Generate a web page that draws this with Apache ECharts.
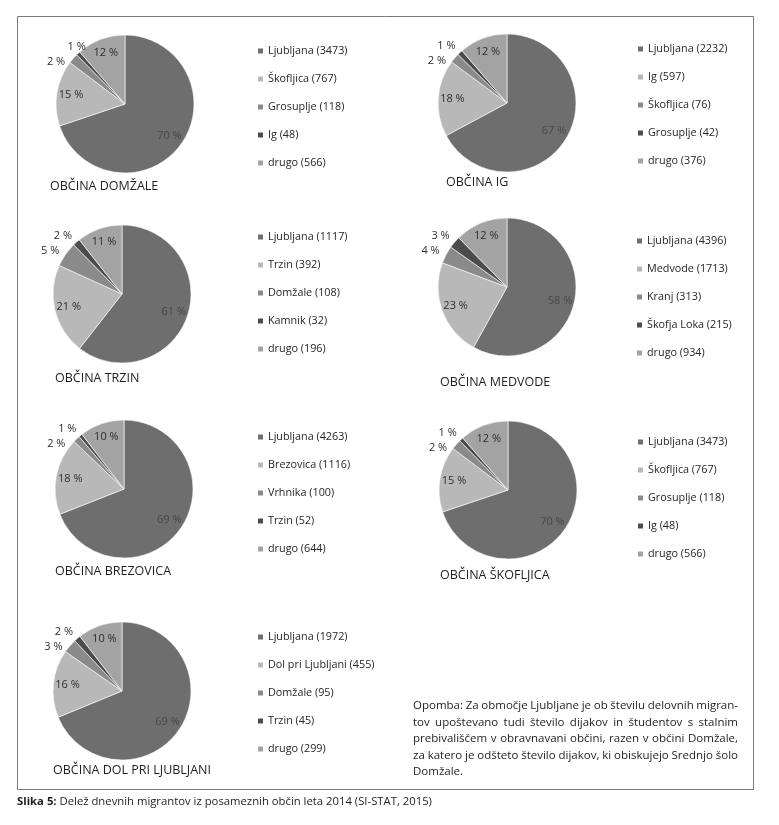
<!DOCTYPE html>
<html><head><meta charset="utf-8">
<script src="https://cdn.jsdelivr.net/npm/echarts@6/dist/echarts.min.js"></script>
<style>html,body{margin:0;padding:0;background:#fff}#c{width:779px;height:825px}</style>
</head><body><div id="c"></div>
<script>
// ---- DATA ----
const chartTitles = ['OBČINA DOMŽALE','OBČINA IG','OBČINA TRZIN','OBČINA MEDVODE','OBČINA BREZOVICA','OBČINA ŠKOFLJICA','OBČINA DOL PRI LJUBLJANI'];

const domzaleNames = ['Ljubljana','Škofljica','Grosuplje','Ig','drugo'];
const domzaleValues = [3473,767,118,48,566];
const domzalePct = [70,15,2,1,12];

const igNames = ['Ljubljana','Ig','Škofljica','Grosuplje','drugo'];
const igValues = [2232,597,76,42,376];
const igPct = [67,18,2,1,12];

const trzinNames = ['Ljubljana','Trzin','Domžale','Kamnik','drugo'];
const trzinValues = [1117,392,108,32,196];
const trzinPct = [61,21,5,2,11];

const medvodeNames = ['Ljubljana','Medvode','Kranj','Škofja Loka','drugo'];
const medvodeValues = [4396,1713,313,215,934];
const medvodePct = [58,23,4,3,12];

const brezovicaNames = ['Ljubljana','Brezovica','Vrhnika','Trzin','drugo'];
const brezovicaValues = [4263,1116,100,52,644];
const brezovicaPct = [69,18,2,1,10];

const skofljicaNames = ['Ljubljana','Škofljica','Grosuplje','Ig','drugo'];
const skofljicaValues = [3473,767,118,48,566];
const skofljicaPct = [70,15,2,1,12];

const dolNames = ['Ljubljana','Dol pri Ljubljani','Domžale','Trzin','drugo'];
const dolValues = [1972,455,95,45,299];
const dolPct = [69,16,3,2,10];

const noteLines = [
  'Opomba: Za območje Ljubljane je ob številu delovnih migran-',
  'tov upoštevano tudi število dijakov in študentov s stalnim',
  'prebivališčem v obravnavani občini, razen v občini Domžale,',
  'za katero je odšteto število dijakov, ki obiskujejo Srednjo šolo',
  'Domžale.'
];
const captionBold = 'Slika 5:';
const captionText = ' Delež dnevnih migrantov iz posameznih občin leta 2014 (SI-STAT, 2015)';

// ---- LAYOUT / STYLE ----
const pies = [
  {names:domzaleNames, values:domzaleValues, pct:domzalePct},
  {names:igNames, values:igValues, pct:igPct},
  {names:trzinNames, values:trzinValues, pct:trzinPct},
  {names:medvodeNames, values:medvodeValues, pct:medvodePct},
  {names:brezovicaNames, values:brezovicaValues, pct:brezovicaPct},
  {names:skofljicaNames, values:skofljicaValues, pct:skofljicaPct},
  {names:dolNames, values:dolValues, pct:dolPct}
];
// label nudges for the two small outside slices: [slot2 dx,dy, slot3 dx,dy]
const layout = [
  {cx:125, cy:104, lx:256, ly:45, tx:50, ty:189, nudge:[8,-1,20,-3]},
  {cx:507, cy:103, lx:636, ly:43, tx:446, ty:185, nudge:[7,-1,8,-3]},
  {cx:122, cy:294, lx:256, ly:231, tx:55, ty:381, nudge:[7,-1,8,-3]},
  {cx:507, cy:287, lx:635, ly:235, tx:440, ty:385, nudge:[7,-1,8,-3]},
  {cx:124, cy:489, lx:256, ly:431, tx:55, ty:574, nudge:[7,-1,8,-3]},
  {cx:508, cy:490, lx:636, ly:436, tx:440, ty:578, nudge:[7,-1,8,-3]},
  {cx:122, cy:691, lx:256, ly:631, tx:53, ty:773, nudge:[7,-1,8,-3]}
];
const R = 69;
const FONT = '"Open Sans", sans-serif';
const colors = ['#6e6e6e','#b8b8b8','#8a8a8a','#4c4c4c','#a3a3a3'];

const series = [], labelSeries = [], legends = [], titles = [];
pies.forEach((p, i) => {
  const L = layout[i];
  const names = p.names.map((n, j) => n + ' (' + p.values[j] + ')');
  const data = names.map((n, j) => ({name:n, value:p.values[j], itemStyle:{color:colors[j]}}));
  series.push({
    type:'pie', center:[L.cx, L.cy], radius:[0, R], data:data,
    label:{show:false}, labelLine:{show:false}, silent:true, animation:false,
    itemStyle:{borderColor:'#ffffff', borderWidth:0.6}
  });
  labelSeries.push({
    type:'pie', center:[L.cx, L.cy], radius:[R*0.5, R], silent:true, animation:false,
    avoidLabelOverlap:true,
    data: data.map((d, j) => ({
      name:d.name, value:d.value,
      itemStyle:{color:'rgba(0,0,0,0)', borderWidth:0},
      label:{position:(j===2||j===3)?'outside':'inside', color: j===0 ? '#474747' : '#2e2e2e'}
    })),
    label:{show:true, fontFamily:FONT, fontSize:11,
      formatter:(prm) => p.pct[prm.dataIndex] + ' %'},
    labelLine:{show:false, length:5, length2:4},
    labelLayout:(prm) => {
      if (prm.dataIndex === 2) return {dx:L.nudge[0], dy:L.nudge[1]};
      if (prm.dataIndex === 3) return {dx:L.nudge[2], dy:L.nudge[3]};
      return {};
    }
  });
  legends.push({
    orient:'vertical', left:L.lx, top:L.ly, itemWidth:7, itemHeight:7, itemGap:16,
    icon:'rect', selectedMode:false, padding:0,
    data:names.map((n, j) => ({name:n, itemStyle:{color:colors[j]}})),
    textStyle:{fontFamily:FONT, fontSize:10.8, color:'#262626', lineHeight:12, padding:[0,0,0,-1]}
  });
  titles.push({
    text:chartTitles[i], left:L.tx, top:L.ty - 9, padding:0,
    textStyle:{fontFamily:FONT, fontSize:12.5, fontWeight:'normal', color:'#1e1e1e'}
  });
});
titles.push({
  text:'{b|' + captionBold + '}' + captionText, left:17, top:796, padding:0,
  textStyle:{fontFamily:FONT, fontSize:11.3, fontWeight:'normal', color:'#1e1e1e',
    rich:{b:{fontFamily:FONT, fontSize:11.3, fontWeight:'bold', color:'#1e1e1e'}}}
});

const graphic = [
  {type:'rect', shape:{x:17.5, y:16.5, width:736, height:773}, style:{fill:'none', stroke:'#7a7a7a', lineWidth:1}, silent:true}
];
// justified note text
const NOTE_FONT_SIZE = 11.5, NOTE_LEFT = 413, NOTE_RIGHT = 738, NOTE_TOP = 700, NOTE_STEP = 16.5;
const ctx = document.createElement('canvas').getContext('2d');
ctx.font = NOTE_FONT_SIZE + 'px "Open Sans"';
noteLines.forEach((t, k) => {
  const y = NOTE_TOP + k * NOTE_STEP;
  const words = t.split(' ');
  const last = k === noteLines.length - 1;
  if (last || words.length < 2) {
    graphic.push({type:'text', left:NOTE_LEFT, top:y, silent:true,
      style:{text:t, fontFamily:FONT, fontSize:NOTE_FONT_SIZE, fill:'#1e1e1e'}});
    return;
  }
  const widths = words.map(w => ctx.measureText(w).width);
  const total = widths.reduce((a, b) => a + b, 0);
  const gap = (NOTE_RIGHT - NOTE_LEFT - total) / (words.length - 1);
  let x = NOTE_LEFT;
  words.forEach((w, m) => {
    graphic.push({type:'text', x:x, y:y, silent:true,
      style:{text:w, fontFamily:FONT, fontSize:NOTE_FONT_SIZE, fill:'#1e1e1e', textVerticalAlign:'top'}});
    x += widths[m] + gap;
  });
});

const chart = echarts.init(document.getElementById('c'), null, {renderer:'canvas'});
chart.setOption({
  backgroundColor:'#ffffff',
  animation:false,
  title:titles,
  legend:legends,
  series:series.concat(labelSeries),
  graphic:graphic
});
</script></body></html>
